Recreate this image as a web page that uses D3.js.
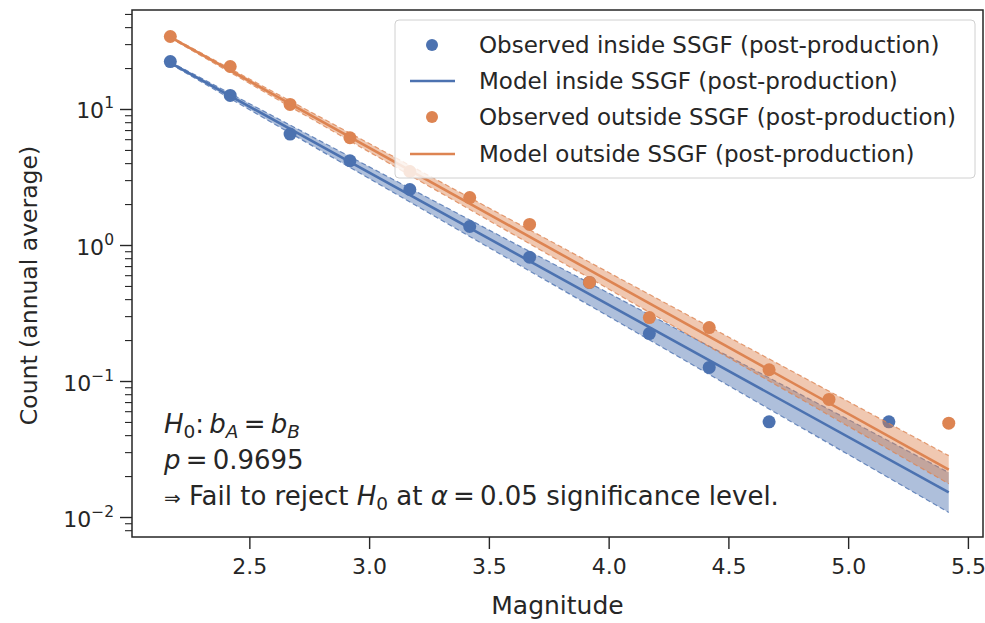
<!DOCTYPE html>
<html>
<head>
<meta charset="utf-8">
<script src="https://cdn.jsdelivr.net/npm/d3@7"></script>
<style>
  html, body { margin: 0; padding: 0; background: #fff; }
  svg { display: block; font-family: "DejaVu Sans", sans-serif; }
</style>
</head>
<body>
<svg id="chart" width="985" height="623"></svg>
<script>
// ---------- data ----------
const magnitudes = [2.17, 2.42, 2.67, 2.92, 3.17, 3.42, 3.67, 3.92, 4.17, 4.42, 4.67, 4.92, 5.17, 5.42];
// null = no observation in that bin
const observedInside  = [22.5, 12.7, 6.6, 4.2, 2.58, 1.38, 0.82, 0.535, 0.225, 0.127, 0.0505, null, 0.0505, null];
const observedOutside = [34.4, 20.7, 10.9, 6.2, 3.5, 2.25, 1.43, 0.535, 0.295, 0.249, 0.122, 0.0738, null, 0.0494];

// model lines (straight in log space: endpoints)
const modelMag = [2.17, 5.42];
const modelInside = [22.0, 0.0153];
const modelInsideLow = [21.6, 0.0109];
const modelInsideHigh = [22.4, 0.0214];
const modelOutside = [34.0, 0.0225];
const modelOutsideLow = [33.5, 0.0177];
const modelOutsideHigh = [34.5, 0.0285];

const xTicks = [2.5, 3.0, 3.5, 4.0, 4.5, 5.0, 5.5];
const yTicks = [0.01, 0.1, 1, 10];
const yTickExp = ["\u22122", "\u22121", "0", "1"];

const legendLabels = [
  "Observed inside SSGF (post-production)",
  "Model inside SSGF (post-production)",
  "Observed outside SSGF (post-production)",
  "Model outside SSGF (post-production)"
];

const BLUE = "#4C72B0", ORANGE = "#DD8452", INK = "#262626";

// ---------- layout ----------
const svg = d3.select("#chart");
const L = 132, R = 983, T = 10, B = 537;
const x = d3.scaleLinear().domain([2.01, 5.563]).range([L, R]);
const y = d3.scaleLog().domain([0.00719, 53.9]).range([B, T]);

const g = svg.append("g");

// ---------- bands ----------
function band(low, high, color) {
  const pts = modelMag.map((m, i) => ({ m, lo: low[i], hi: high[i] }));
  g.append("path").datum(pts)
    .attr("d", d3.area().x(d => x(d.m)).y0(d => y(d.lo)).y1(d => y(d.hi)))
    .attr("fill", color).attr("fill-opacity", 0.45).attr("stroke", "none");
  [low, high].forEach(arr => {
    g.append("path").datum(modelMag.map((m, i) => ({ m, v: arr[i] })))
      .attr("d", d3.line().x(d => x(d.m)).y(d => y(d.v)))
      .attr("fill", "none").attr("stroke", color).attr("stroke-width", 1.2)
      .attr("stroke-dasharray", "5,3").attr("stroke-opacity", 0.8);
  });
}
function modelLine(vals, color) {
  g.append("path").datum(modelMag.map((m, i) => ({ m, v: vals[i] })))
    .attr("d", d3.line().x(d => x(d.m)).y(d => y(d.v)))
    .attr("fill", "none").attr("stroke", color).attr("stroke-width", 2.6);
}
function points(vals, color) {
  g.append("g").selectAll("circle")
    .data(magnitudes.map((m, i) => ({ m, v: vals[i] })).filter(d => d.v != null))
    .join("circle")
    .attr("cx", d => x(d.m)).attr("cy", d => y(d.v)).attr("r", 6.5)
    .attr("fill", color);
}

band(modelInsideLow, modelInsideHigh, BLUE);
points(observedInside, BLUE);
modelLine(modelInside, BLUE);
band(modelOutsideLow, modelOutsideHigh, ORANGE);
points(observedOutside, ORANGE);
modelLine(modelOutside, ORANGE);

// ---------- axes ----------
const xAxis = d3.axisBottom(x).tickValues(xTicks).tickFormat(d3.format(".1f"))
  .tickSize(12).tickPadding(9);
const xg = svg.append("g").attr("transform", `translate(0,${B})`).call(xAxis);
xg.select(".domain").remove();
xg.selectAll(".tick line").attr("stroke", INK).attr("stroke-width", 1.4);
xg.selectAll(".tick text").attr("fill", INK).attr("font-size", 22)
  .attr("font-family", "DejaVu Sans");

// minor y ticks
const minorVals = [];
for (let e = -3; e <= 1; e++) for (let k = 2; k <= 9; k++) {
  const v = k * Math.pow(10, e);
  if (v >= y.domain()[0] && v <= y.domain()[1]) minorVals.push(v);
}
const yg = svg.append("g").attr("transform", `translate(${L},0)`);
yg.selectAll("line.minor").data(minorVals).join("line").attr("class", "minor")
  .attr("x1", -7).attr("x2", 0).attr("y1", d => y(d)).attr("y2", d => y(d))
  .attr("stroke", INK).attr("stroke-width", 1.1);
yg.selectAll("line.major").data(yTicks).join("line").attr("class", "major")
  .attr("x1", -12).attr("x2", 0).attr("y1", d => y(d)).attr("y2", d => y(d))
  .attr("stroke", INK).attr("stroke-width", 1.4);
const ylab = yg.selectAll("text.ylab").data(yTicks).join("text").attr("class", "ylab")
  .attr("x", -18).attr("y", d => y(d) + 9).attr("text-anchor", "end")
  .attr("fill", INK).attr("font-size", 22);
ylab.each(function(d, i) {
  const t = d3.select(this);
  t.append("tspan").text("10");
  t.append("tspan").attr("dy", -10).attr("font-size", 15.5).text(yTickExp[i]);
});

// spines
svg.append("rect").attr("x", L).attr("y", T).attr("width", R - L).attr("height", B - T)
  .attr("fill", "none").attr("stroke", INK).attr("stroke-width", 1.5);

// axis labels
svg.append("text").attr("x", (L + R) / 2).attr("y", 614).attr("text-anchor", "middle")
  .attr("fill", INK).attr("font-size", 25).text("Magnitude");
svg.append("text").attr("transform", `translate(37,${(T + B) / 2 + 12}) rotate(-90)`)
  .attr("text-anchor", "middle").attr("fill", INK).attr("font-size", 23.5)
  .text("Count (annual average)");

// ---------- annotation ----------
const ann = svg.append("g").attr("fill", INK).attr("font-size", 26);
const SUB = 18.5, TS = "\u2009";
const a1 = ann.append("text").attr("x", 164).attr("y", 433);
a1.append("tspan").attr("font-style", "italic").text("H");
a1.append("tspan").attr("dy", 5).attr("font-size", SUB).text("0");
a1.append("tspan").attr("dy", -5).text(":" + TS);
a1.append("tspan").attr("font-style", "italic").text("b");
a1.append("tspan").attr("dy", 5).attr("font-size", SUB).attr("font-style", "italic").text("A");
a1.append("tspan").attr("dy", -5).text(TS + "=" + TS);
a1.append("tspan").attr("font-style", "italic").text("b");
a1.append("tspan").attr("dy", 5).attr("font-size", SUB).attr("font-style", "italic").text("B");
const a2 = ann.append("text").attr("x", 164).attr("y", 469);
a2.append("tspan").attr("font-style", "italic").text("p");
a2.append("tspan").text(TS + "=" + TS + "0.9695");
const a3 = ann.append("text").attr("x", 164).attr("y", 505);
a3.append("tspan").attr("font-size", 20).text("\u21D2");
a3.append("tspan").text(" Fail to reject ");
a3.append("tspan").attr("font-style", "italic").text("H");
a3.append("tspan").attr("dy", 5).attr("font-size", SUB).text("0");
a3.append("tspan").attr("dy", -5).text(" at ");
a3.append("tspan").attr("font-style", "italic").text("\u03B1");
a3.append("tspan").text(TS + "=" + TS + "0.05 significance level.");

// ---------- legend ----------
const lg = svg.append("g");
lg.append("rect").attr("x", 395).attr("y", 20).attr("width", 580).attr("height", 158)
  .attr("rx", 4).attr("fill", "#fff").attr("fill-opacity", 0.8)
  .attr("stroke", "#d0d0d0").attr("stroke-width", 1);
const rows = [
  { type: "dot", color: BLUE }, { type: "line", color: BLUE },
  { type: "dot", color: ORANGE }, { type: "line", color: ORANGE }
];
const rowY = [45, 81, 117, 154];
rows.forEach((r, i) => {
  if (r.type === "dot") {
    lg.append("circle").attr("cx", 432).attr("cy", rowY[i]).attr("r", 6).attr("fill", r.color);
  } else {
    lg.append("line").attr("x1", 410).attr("x2", 455).attr("y1", rowY[i]).attr("y2", rowY[i])
      .attr("stroke", r.color).attr("stroke-width", 2.6);
  }
  lg.append("text").attr("x", 479).attr("y", rowY[i] + 8).attr("fill", INK)
    .attr("font-size", 23).text(legendLabels[i]);
});
</script>
</body>
</html>
